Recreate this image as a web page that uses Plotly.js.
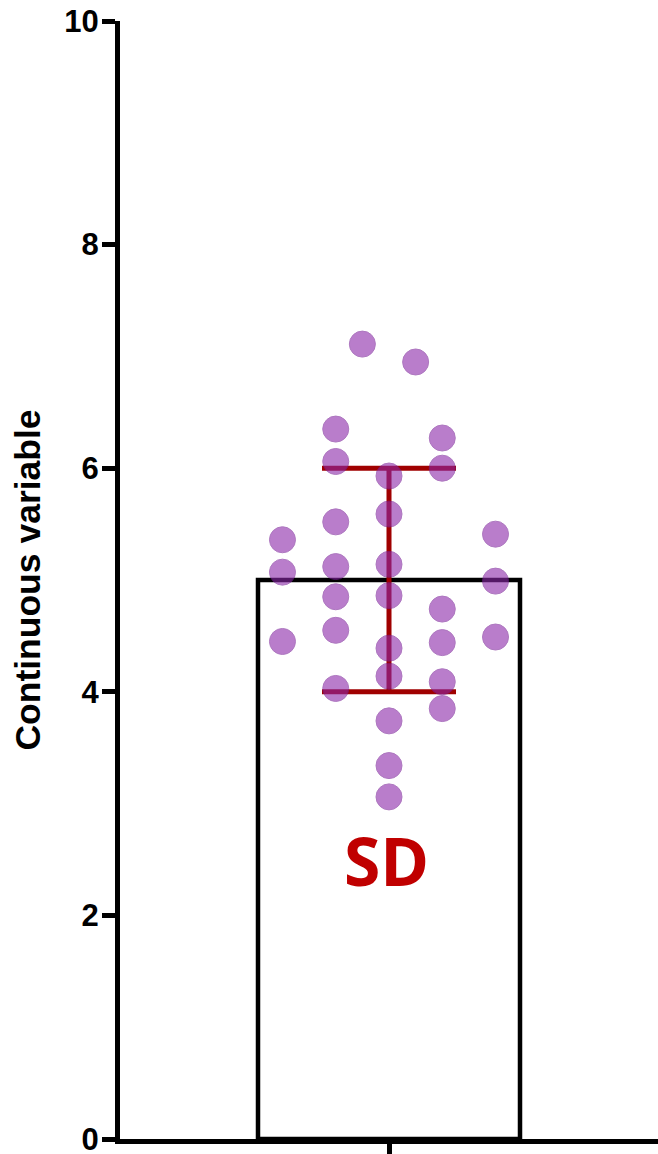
<!DOCTYPE html>
<html>
<head>
<meta charset="utf-8">
<script src="https://cdn.plot.ly/plotly-3.0.1.min.js"></script>
<style>html,body{margin:0;padding:0;background:#fff;}#chart{width:658px;height:1154px;}</style>
</head>
<body>
<div id="chart"></div>
<script>
// Summary values
const groupLabel = "SD";
const meanValue = 5.0;
const sdValue = 1.0;

// Individual points: horizontal slot (swarm column) and value
const pointSlot = [-4, -4, -4,
  -2, -2, -2, -2, -2, -2, -2,
  -1,
  0, 0, 0, 0, 0, 0, 0, 0, 0,
  1,
  2, 2, 2, 2, 2, 2,
  4, 4, 4];
const pointValue = [5.36, 5.07, 4.45,
  6.35, 6.06, 5.52, 5.12, 4.85, 4.55, 4.03,
  7.11,
  5.93, 5.59, 5.14, 4.86, 4.39, 4.14, 3.74, 3.34, 3.06,
  6.95,
  6.27, 6.00, 4.74, 4.44, 4.09, 3.85,
  5.41, 4.99, 4.49];

const yTickVals = [0, 2, 4, 6, 8, 10];
const yTickText = ["0", "2", "4", "6", "8", "10"];
const yTitle = "Continuous variable";

const slotStep = 0.099;
const pointX = pointSlot.map(s => s * slotStep);

const barTrace = {
  type: 'bar',
  x: [0],
  y: [meanValue],
  width: [0.974],
  marker: {color: '#ffffff', line: {color: '#000000', width: 4.5}},
  error_y: {type: 'data', array: [sdValue], visible: true, color: '#a00000', thickness: 5, width: 67},
  hoverinfo: 'skip',
  showlegend: false
};

const pointTrace = {
  type: 'scatter',
  mode: 'markers',
  x: pointX,
  y: pointValue,
  marker: {size: 26, color: 'rgb(140,40,170)', opacity: 0.6, line: {color: 'rgb(120,30,150)', width: 1}},
  showlegend: false,
  hoverinfo: 'skip'
};

const layout = {
  width: 658,
  height: 1154,
  margin: {l: 120, r: 0, t: 21, b: 15, pad: 0},
  paper_bgcolor: '#ffffff',
  plot_bgcolor: '#ffffff',
  showlegend: false,
  xaxis: {
    range: [-1, 1],
    showgrid: false,
    zeroline: false,
    showline: true,
    linecolor: '#000000',
    linewidth: 5,
    ticks: 'outside',
    tickvals: [0],
    ticktext: [''],
    ticklen: 15,
    tickwidth: 5,
    tickcolor: '#000000',
    fixedrange: true
  },
  yaxis: {
    range: [0, 10],
    showgrid: false,
    zeroline: false,
    showline: true,
    linecolor: '#000000',
    linewidth: 5,
    ticks: 'outside',
    ticklen: 13,
    tickwidth: 5,
    tickcolor: '#000000',
    tickvals: yTickVals,
    ticktext: yTickText,
    ticklabeloverflow: 'allow',
    ticklabelstandoff: -3,
    tickfont: {family: 'Liberation Sans, Arial, sans-serif', size: 31, color: '#000000', weight: 'bold'},
    title: {text: '<b>' + yTitle + '</b>', font: {family: 'Liberation Sans, Arial, sans-serif', size: 35.5, color: '#000000'}, standoff: 14},
    fixedrange: true
  },
  annotations: [{
    x: 0, y: 2.5, xref: 'x', yref: 'y',
    text: '<b>' + groupLabel + '</b>',
    showarrow: false,
    font: {family: 'Open Sans, Noto Sans, sans-serif', size: 66, color: '#c00000'},
    xanchor: 'center', yanchor: 'middle', xshift: -3
  }]
};

Plotly.newPlot('chart', [barTrace, pointTrace], layout, {displayModeBar: false, staticPlot: true});
</script>
</body>
</html>
